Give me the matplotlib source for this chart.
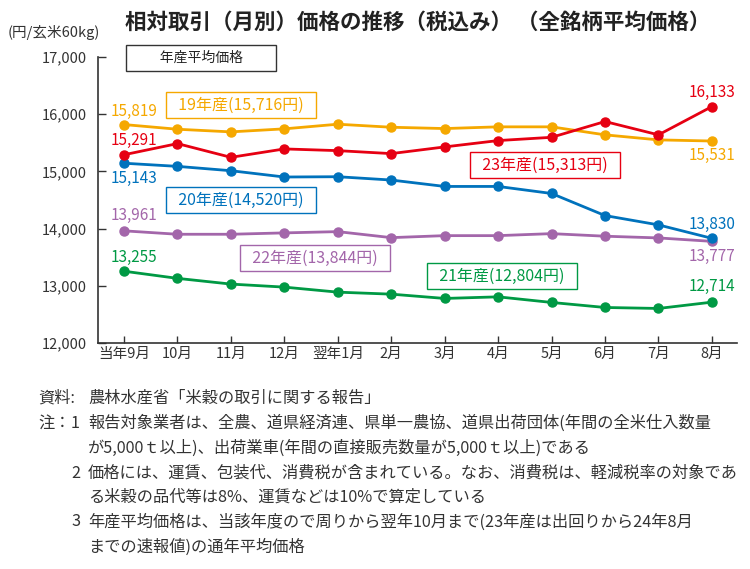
import matplotlib
matplotlib.use("Agg")
import matplotlib.pyplot as plt

plt.rcParams['font.family'] = ['Noto Sans CJK JP', 'DejaVu Sans']

months = ["当年9月", "10月", "11月", "12月", "翌年1月", "2月", "3月", "4月", "5月", "6月", "7月", "8月"]

y19 = [15819, 15737, 15691, 15744, 15825, 15772, 15749, 15779, 15779, 15639, 15551, 15531]
y23 = [15291, 15486, 15246, 15393, 15363, 15311, 15428, 15539, 15596, 15872, 15639, 16133]
y20 = [15143, 15088, 15012, 14902, 14907, 14849, 14737, 14737, 14614, 14228, 14065, 13830]
y22 = [13961, 13901, 13901, 13925, 13947, 13842, 13877, 13877, 13912, 13867, 13837, 13777]
y21 = [13255, 13130, 13030, 12977, 12889, 12854, 12779, 12807, 12709, 12621, 12604, 12714]

legend_labels = ["19年産(15,716円)", "20年産(14,520円)", "21年産(12,804円)",
                 "22年産(13,844円)", "23年産(15,313円)"]

yticks = [12000, 13000, 14000, 15000, 16000, 17000]

C19 = "#F5A800"
C20 = "#0072BC"
C21 = "#009944"
C22 = "#A366AA"
C23 = "#E60012"

W, H = 750, 569
fig = plt.figure(figsize=(7.5, 5.69), dpi=100)

def fx(px):
    return px / W

def fy(py):
    return 1 - py / H

ax = fig.add_axes([fx(98), fy(343), (737 - 98) / W, (343 - 57) / H])
x = list(range(len(months)))

for ys, c in [(y21, C21), (y22, C22), (y20, C20), (y19, C19), (y23, C23)]:
    ax.plot(x, ys, color=c, lw=2.0, marker='o', ms=6.5, zorder=3, clip_on=False)

ax.set_xlim(-0.487, 11.47)
ax.set_ylim(12000, 17000)
ax.set_yticks(yticks)
ax.set_yticklabels([f"{v:,}" for v in yticks])
ax.set_xticks(x)
ax.set_xticklabels(months)
for s in ['top', 'right']:
    ax.spines[s].set_visible(False)
for s in ['left', 'bottom']:
    ax.spines[s].set_color('#333333')
    ax.spines[s].set_linewidth(1.2)
ax.tick_params(axis='y', direction='in', length=6, width=1.0, color='#333333',
               pad=8, labelsize=10.5, labelcolor='#333333')
ax.tick_params(axis='x', direction='in', length=5, width=1.0, color='#333333',
               pad=3, labelsize=10.5, labelcolor='#333333')

# value labels (dy_px > 0 : above the point)
def lab(i, ys, c, dy_px):
    ax.annotate(f"{ys[i]:,}", (x[i], ys[i]), xytext=(7 if i == 0 else 0, dy_px * 0.72),
                textcoords='offset points', ha='center', va='center',
                color=c, fontsize=11)

lab(0, y19, C19, 13)
lab(0, y23, C23, 14)
lab(0, y20, C20, -15)
lab(0, y22, C22, 15)
lab(0, y21, C21, 14)
lab(11, y23, C23, 14)
lab(11, y19, C19, -14)
lab(11, y20, C20, 14)
lab(11, y22, C22, -15)
lab(11, y21, C21, 16)

# series name boxes
boxes = [
    (241, 105, legend_labels[0], C19),
    (241, 200, legend_labels[1], C20),
    (502, 276, legend_labels[2], C21),
    (315, 258, legend_labels[3], C22),
    (545, 165, legend_labels[4], C23),
]
for bx, by, t, c in boxes:
    fig.text(fx(bx), fy(by), "  " + t + "  ", ha='center', va='center', color=c, fontsize=11.5,
             bbox=dict(boxstyle='square,pad=0.3', fc='white', ec=c, lw=1.0), zorder=5)

fig.text(fx(201), fy(58), "　　年産平均価格　　", ha='center', va='center', color='#222222',
         fontsize=10,
         bbox=dict(boxstyle='square,pad=0.4', fc='white', ec='#333333', lw=1.0))

# title and unit
fig.text(fx(418), fy(22), "相対取引（月別）価格の推移（税込み） （全銘柄平均価格）",
         ha='center', va='center', fontsize=15.5, fontweight='bold', color='#222222')
fig.text(fx(8), fy(33), "(円/玄米60kg)", ha='left', va='center', fontsize=10.5,
         color='#333333')

# notes
nc = '#333333'
nfs = 11.7
fig.text(fx(38), fy(398), "資料:", ha='left', va='center', fontsize=nfs, color=nc)
fig.text(fx(88), fy(398), "農林水産省「米穀の取引に関する報告」", ha='left', va='center',
         fontsize=nfs, color=nc)
fig.text(fx(38), fy(423), "注：", ha='left', va='center', fontsize=nfs, color=nc)
notes = [
    (423, "1", "報告対象業者は、全農、道県経済連、県単一農協、道県出荷団体(年間の全米仕入数量"),
    (448, "", "が5,000ｔ以上)、出荷業車(年間の直接販売数量が5,000ｔ以上)である"),
    (473, "2", "価格には、運賃、包装代、消費税が含まれている。なお、消費税は、軽減税率の対象であ"),
    (497, "", "る米穀の品代等は8%、運賃などは10%で算定している"),
    (522, "3", "年産平均価格は、当該年度ので周りから翌年10月まで(23年産は出回りから24年8月"),
    (547, "", "までの速報値)の通年平均価格"),
]
for py, num, t in notes:
    if num:
        fig.text(fx(71), fy(py), num, ha='left', va='center', fontsize=nfs, color=nc)
    fig.text(fx(88), fy(py), t, ha='left', va='center', fontsize=nfs, color=nc)

fig.savefig("out.png", dpi=100)
